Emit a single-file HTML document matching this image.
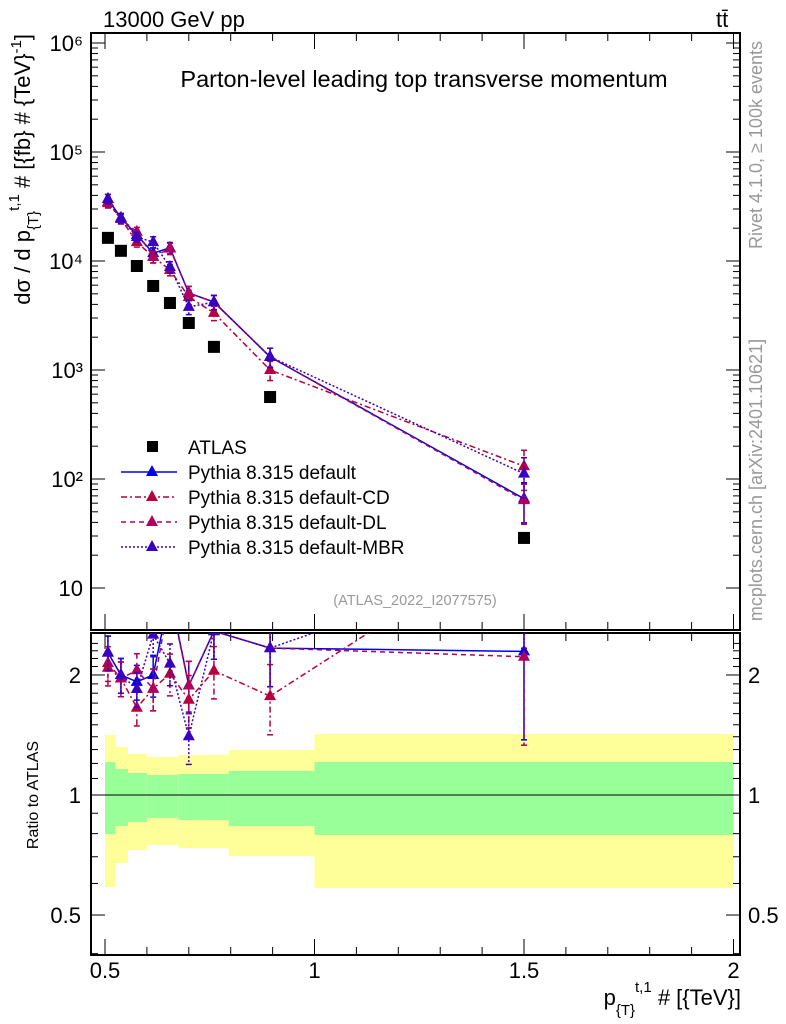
<!DOCTYPE html>
<html><head><meta charset="utf-8"><style>
body{margin:0;background:#fff;}
svg{display:block;font-family:"Liberation Sans",sans-serif;}
</style></head><body>
<svg id="chart" width="786" height="1024" viewBox="0 0 786 1024" xmlns="http://www.w3.org/2000/svg">
<defs>
<clipPath id="mainclip"><rect x="91" y="33" width="649" height="597"/></clipPath>
<clipPath id="ratioclip"><rect x="91" y="633" width="649" height="322"/></clipPath>
</defs>
<g id="bands"></g>
<g id="axes"></g>
<g id="marks"></g>
<text x="103" y="27" font-size="22">13000 GeV pp</text>
<text x="716" y="27" font-size="22">tt̄</text>
<text x="424" y="87" font-size="23.5" text-anchor="middle">Parton-level leading top transverse momentum</text>
<text x="415" y="605" font-size="14.5" fill="#999" text-anchor="middle">(ATLAS_2022_I2077575)</text>
<text transform="translate(762,145) rotate(-90)" font-size="18" fill="#999" text-anchor="middle">Rivet 4.1.0, ≥ 100k events</text>
<text transform="translate(762,480) rotate(-90)" font-size="18" fill="#999" text-anchor="middle">mcplots.cern.ch [arXiv:2401.10621]</text>
<text transform="translate(30,34) rotate(-90)" font-size="22" text-anchor="end">dσ / d p<tspan font-size="15" dy="8">{T}</tspan><tspan font-size="15" dy="-19">t,1</tspan><tspan dy="11"> # [{fb} # {TeV}</tspan><tspan font-size="15" dy="-9">-1</tspan><tspan dy="9">]</tspan></text>
<text transform="translate(38,795) rotate(-90)" font-size="16" text-anchor="middle">Ratio to ATLAS</text>
<text x="741" y="1005" font-size="22" text-anchor="end">p<tspan font-size="15" dy="10">{T}</tspan><tspan font-size="15" dy="-23">t,1</tspan><tspan dy="13"> # [{TeV}]</tspan></text>
<g id="legend"></g>
</svg>
<script>
const xs = [0.507,0.538,0.576,0.615,0.655,0.70,0.76,0.894,1.5];
const atlas = [16300,12400,9000,5900,4120,2700,1630,565,28.8];
const sDefault = [37100,24800,17300,11800,13200,5080,4200,1320,66];
const sCD = [34000,24300,14900,10900,8300,4680,3340,1000,131];
const sDL = [34900,24300,18500,10900,13000,5080,4200,1320,64];
const sMBR = [37100,24800,16600,14900,8800,3790,4200,1320,112];
const relErr = [0.1,0.1,0.1,0.12,0.12,0.15,0.15,0.2,0.4];
const binEdges = [0.5,0.525,0.555,0.6,0.675,0.795,1.0,2.0];
const yellowHi = [1.414,1.32,1.267,1.245,1.26,1.297,1.422];
const greenHi = [1.21,1.162,1.135,1.122,1.129,1.149,1.21];
const greenLo = [0.798,0.836,0.856,0.876,0.866,0.836,0.794];
const yellowLo = [0.588,0.675,0.728,0.749,0.736,0.703,0.585];
const yTicks = [10,100,1000,10000,100000,1000000];
const yTickLabels = ['10','10²','10³','10⁴','10⁵','10⁶'];
const xTicks = [0.5,1,1.5,2];
const xTickLabels = ['0.5','1','1.5','2'];
const rTicks = [0.5,1,2];
const rTickLabels = ['0.5','1','2'];

const NS='http://www.w3.org/2000/svg';
const X = v => 105 + (v-0.5)*419;
const Y = v => 43 + (6-Math.log10(v))*109;
const R = v => 795 - Math.log10(v)*398.7;
const L=91, Rt=740, T=33, MB=630, RB=955;
function mk(parent,tag,attrs){const e=document.createElementNS(NS,tag);for(const k in attrs)e.setAttribute(k,attrs[k]);parent.appendChild(e);return e;}

const bands=document.getElementById('bands');
for(let i=0;i<binEdges.length-1;i++){
  const x0=X(binEdges[i]), x1=X(binEdges[i+1]);
  const y1=mk(bands,'rect',{x:x0,y:R(yellowHi[i]),width:x1-x0,height:R(yellowLo[i])-R(yellowHi[i]),fill:'#ffff99'});
  
  
  const g1=mk(bands,'rect',{x:x0,y:R(greenHi[i]),width:x1-x0,height:R(greenLo[i])-R(greenHi[i]),fill:'#99ff99'});
  
  
}

const ax=document.getElementById('axes');
mk(ax,'rect',{x:L,y:T,width:Rt-L,height:MB-T,fill:'none',stroke:'#000','stroke-width':2});
mk(ax,'rect',{x:L,y:MB+3,width:Rt-L,height:RB-MB-3,fill:'none',stroke:'#000','stroke-width':2});
mk(ax,'line',{x1:L,x2:Rt,y1:R(1),y2:R(1),stroke:'#000','stroke-width':1});
for(let d=1;d<=6;d++){
  for(let m=1;m<10;m++){
    const v=m*Math.pow(10,d);const y=Y(v);
    if(y<T||y>MB)continue;
    const len=m===1?14:7;
    mk(ax,'line',{x1:L,x2:L+len,y1:y,y2:y,stroke:'#000','stroke-width':1});
    mk(ax,'line',{x1:Rt,x2:Rt-len,y1:y,y2:y,stroke:'#000','stroke-width':1});
  }
}
yTicks.forEach((v,i)=>{
  const t=mk(ax,'text',{x:L-8,y:Y(v)+8,'font-size':22,'text-anchor':'end'});
  t.textContent=yTickLabels[i];
  
  
});
for(let v=0.4;v<=2.5;v+=0.1){
  const y=R(v); if(y<MB+3||y>RB)continue;
  const major=rTicks.some(r=>Math.abs(r-v)<1e-6);
  const len=major?14:7;
  mk(ax,'line',{x1:L,x2:L+len,y1:y,y2:y,stroke:'#000','stroke-width':1});
  mk(ax,'line',{x1:Rt,x2:Rt-len,y1:y,y2:y,stroke:'#000','stroke-width':1});
}
rTicks.forEach((v,i)=>{
  const t=mk(ax,'text',{x:L-10,y:R(v)+8,'font-size':22,'text-anchor':'end'});
  t.textContent=rTickLabels[i];
  
  
  const t2=mk(ax,'text',{x:Rt+8,y:R(v)+8,'font-size':22});
  t2.textContent=rTickLabels[i];
  
  
});
for(let k=5;k<=20;k++){
  const v=k/10;const x=X(v);
  const major=k%5===0;const len=major?16:8;
  [T,MB+3].forEach(y0=>mk(ax,'line',{x1:x,x2:x,y1:y0,y2:y0+len,stroke:'#000','stroke-width':1}));
  [MB,RB].forEach(y0=>mk(ax,'line',{x1:x,x2:x,y1:y0,y2:y0-len,stroke:'#000','stroke-width':1}));
}
xTicks.forEach((v,i)=>{
  const t=mk(ax,'text',{x:X(v),y:978,'font-size':22,'text-anchor':'middle'});
  t.textContent=xTickLabels[i];
  
  
});

const marks=document.getElementById('marks');
const mainG=mk(marks,'g',{'clip-path':'url(#mainclip)'});
const ratG=mk(marks,'g',{'clip-path':'url(#ratioclip)'});
function tri(g,x,y,c){return mk(g,'path',{d:`M${x} ${y-7}L${x+6} ${y+4}L${x-6} ${y+4}Z`,fill:c});}
const series=[
  {name:'default',vals:sDefault,color:'#0000ee',dash:'',label:'Pythia 8.315 default'},
  {name:'default-cd',vals:sCD,color:'#b8003c',dash:'6,3,2,3',label:'Pythia 8.315 default-CD'},
  {name:'default-dl',vals:sDL,color:'#b0005e',dash:'5,4',label:'Pythia 8.315 default-DL'},
  {name:'default-mbr',vals:sMBR,color:'#3a00c0',dash:'2,2',label:'Pythia 8.315 default-MBR'}
];
xs.forEach((x,i)=>{
  const r=mk(mainG,'rect',{x:X(x)-6,y:Y(atlas[i])-6,width:12,height:12,fill:'#000'});
  
  
});
series.forEach(s=>{
  const pm=xs.map((x,i)=>`${X(x)},${Y(s.vals[i])}`).join(' ');
  const pl=mk(mainG,'polyline',{points:pm,fill:'none',stroke:s.color,'stroke-width':1.5,'stroke-dasharray':s.dash});
  
  
  const pr=xs.map((x,i)=>`${X(x)},${R(s.vals[i]/atlas[i])}`).join(' ');
  const rl=mk(ratG,'polyline',{points:pr,fill:'none',stroke:s.color,'stroke-width':1.5,'stroke-dasharray':s.dash});
  
  
  xs.forEach((x,i)=>{
    const v=s.vals[i],e=relErr[i],px=X(x);
    [[mainG,Y(v*(1+e)),Y(v*(1-e)),Y(v)],[ratG,R(v*(1+e)/atlas[i]),R(v*(1-e)/atlas[i]),R(v/atlas[i])]].forEach(([g,a,b,c])=>{
      mk(g,'line',{x1:px,x2:px,y1:a,y2:b,stroke:s.color,'stroke-width':1.5,'stroke-dasharray':s.dash});
      mk(g,'line',{x1:px-3,x2:px+3,y1:a,y2:a,stroke:s.color,'stroke-width':1.5});
      mk(g,'line',{x1:px-3,x2:px+3,y1:b,y2:b,stroke:s.color,'stroke-width':1.5});
      const t=tri(g,px,c,s.color);
      
      
    });
  });
});

const lg=document.getElementById('legend');
const ly=[447,472,497,522,547];
const sq=mk(lg,'rect',{x:147,y:ly[0]-6,width:11,height:11,fill:'#000'});


const lt0=mk(lg,'text',{x:188,y:ly[0]+7,'font-size':19});
lt0.textContent='ATLAS';


series.forEach((s,i)=>{
  const y=ly[i+1];
  mk(lg,'line',{x1:121,x2:177,y1:y,y2:y,stroke:s.color,'stroke-width':1.5,'stroke-dasharray':s.dash});
  tri(lg,152,y,s.color);
  const t=mk(lg,'text',{x:188,y:y+7,'font-size':19});
  t.textContent=s.label;
  
  
});
</script>
</body></html>
